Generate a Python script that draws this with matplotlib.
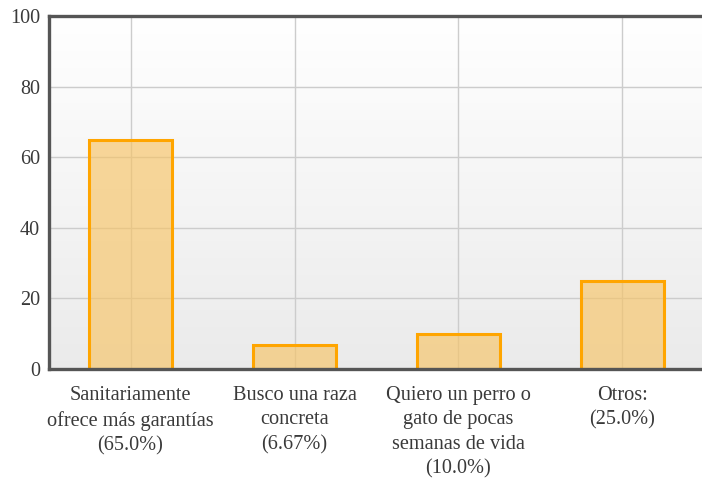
import numpy as np
import matplotlib.pyplot as plt

# ------------------------------------------------------
# Data
# ------------------------------------------------------

categories = [
    "Sanitariamente\nofrece más garantías\n(65.0%)",
    "Busco una raza\nconcreta\n(6.67%)",
    "Quiero un perro o\ngato de pocas\nsemanas de vida\n(10.0%)",
    "Otros:\n(25.0%)",
]
values = [65.0, 6.67, 10.0, 25.0]
y_ticks = [0, 20, 40, 60, 80, 100]

plt.rcParams["font.family"] = ["Liberation Serif", "DejaVu Serif"]

fig = plt.figure(figsize=(7.02, 4.82), dpi=100)
ax = fig.add_axes([48.5 / 702, 1 - 369 / 482, 656 / 702, (369 - 16) / 482])

# gradient background
grad = np.linspace(1.0, 0.92, 256).reshape(-1, 1)
ax.imshow(
    np.dstack([grad, grad, grad]),
    extent=[-0.5, 3.5, 0, 100],
    aspect="auto",
    zorder=0,
)

x = np.arange(len(categories))

ax.bar(
    x,
    values,
    width=0.51,
    facecolor=(0.97, 0.77, 0.40, 0.65),
    edgecolor="#ffa500",
    linewidth=2.2,
    zorder=2,
)

ax.set_xlim(-0.5, 3.5)
ax.set_ylim(0, 100)

ax.set_xticks(x)
ax.set_xticklabels(categories, fontsize=14.6, color="#3a3a3a", linespacing=1.4)
ax.set_yticks(y_ticks)
ax.set_yticklabels([str(v) for v in y_ticks], fontsize=14.5, color="#3a3a3a")

ax.tick_params(length=0)
ax.tick_params(axis="x", pad=12)
ax.tick_params(axis="y", pad=6)

ax.grid(True, color="#cccccc", linewidth=1.0, zorder=1)
ax.set_axisbelow(True)

for side in ["left", "top", "bottom"]:
    ax.spines[side].set_color("#555555")
    ax.spines[side].set_linewidth(2.4)
ax.spines["right"].set_visible(False)

fig.savefig("out.png", dpi=100)
